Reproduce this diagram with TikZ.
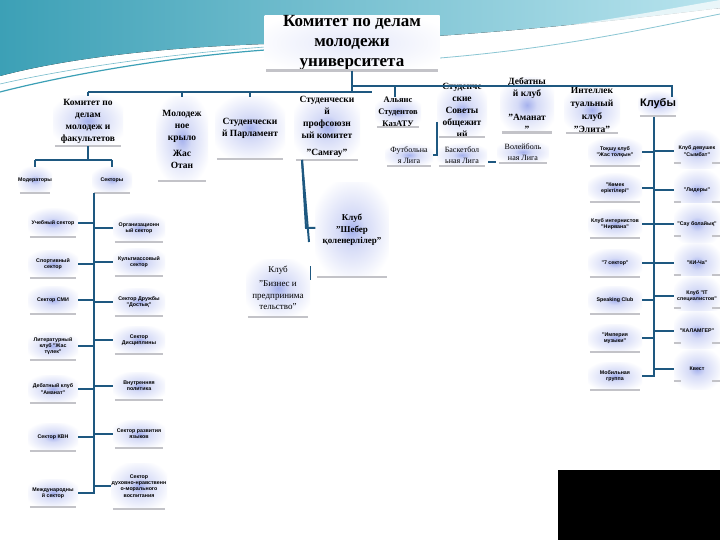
\documentclass[tikz,border=0pt]{standalone}
\usepackage{fontspec}
\setmainfont{Liberation Serif}
\newfontfamily\sansf{Liberation Sans}
\definecolor{linec}{RGB}{30,88,128}
\definecolor{glowc}{RGB}{105,125,225}
\definecolor{tealA}{RGB}{60,160,182}
\definecolor{tealB}{RGB}{185,228,238}
\definecolor{shadc}{RGB}{195,195,200}
\colorlet{glowin}{glowc!60}
\colorlet{glowmid}{glowc!28}
\colorlet{glowlt}{glowc!18}
\colorlet{glowout}{white}
\pgfdeclareradialshading{glowsh}{\pgfpoint{0bp}{0bp}}{color(0bp)=(glowin); color(9bp)=(glowmid); color(29bp)=(glowout); color(50bp)=(glowout)}
\pgfdeclareradialshading{glowsoft}{\pgfpoint{0bp}{0bp}}{color(0bp)=(glowlt); color(30bp)=(glowout); color(50bp)=(glowout)}
\begin{document}
\begin{tikzpicture}[x=1pt,y=-1pt,
  box/.style={shading=glowsh, inner sep=0pt, align=center},
  head/.style={font=\fontsize{9.5}{12}\selectfont\bfseries},
  mid/.style={font=\fontsize{8}{10.5}\selectfont},
  tiny/.style={font=\sansf\fontsize{5.3}{6.2}\selectfont\bfseries},
  conn/.style={draw=linec, line width=2pt},
  shad/.style={draw=shadc, line width=2.2pt}]
\useasboundingbox (0,0) rectangle (720,540);
\fill[white] (0,0) rectangle (720,540);
% background waves
\fill[left color=tealA, right color=tealB] (0,0) -- (720,0) -- (720,8)
  .. controls (560,28) and (420,40) .. (265,44) .. controls (150,48) and (60,60) .. (0,76) -- cycle;
\fill[white, opacity=0.7] (440,40) .. controls (560,30) and (650,12) .. (720,0) -- (720,8)
  .. controls (620,28) and (540,40) .. (440,46) -- cycle;
\draw[tealA, line width=1.2pt] (0,92) .. controls (70,74) and (170,57) .. (265,50);
\draw[tealA!70, line width=0.6pt] (0,84) .. controls (70,68) and (170,54) .. (265,47);
\draw[tealA!60, line width=0.8pt] (440,58) .. controls (560,48) and (650,28) .. (720,14);
% top
\node[box, shading=glowsoft, minimum width=175, minimum height=54,
  font=\fontsize{17}{20}\selectfont\bfseries] (top) at (352,43) {Комитет по делам\\молодежи\\университета};
% level 2
\node[box,head,minimum width=70,minimum height=50] (kom) at (88,121) {Комитет по\\делам\\молодеж и\\факультетов};
\node[box,head,minimum width=52,minimum height=84] (mol) at (182,139) {Молодеж\\ное\\крыло\\[4pt]Жас\\Отан};
\node[box,head,minimum width=70,minimum height=62] (parl) at (250,128) {Студенчески\\й Парламент};
\node[box,head,minimum width=66,minimum height=66] (prof) at (327,127) {Студенчески\\й\\профсоюзн\\ый комитет\\[5pt]"Самғау"};
\node[box,head,minimum width=46,minimum height=30,font=\fontsize{8.5}{12}\selectfont\bfseries] (aly) at (398,112) {Альянс\\Студентов\\КазАТУ};
\node[box,head,minimum width=50,minimum height=52] (sov) at (462,110) {Студенче\\ские\\Советы\\общежит\\ий};
\node[box,head,minimum width=54,minimum height=50] (deb) at (527,105) {Дебатны\\й клуб\\[12pt]"Аманат\\"};
\node[box,head,minimum width=56,minimum height=45,font=\fontsize{9.5}{13}\selectfont\bfseries] (intel) at (592,110) {Интеллек\\туальный\\клуб\\"Элита"};
\node[box,minimum width=40,minimum height=24,font=\sansf\fontsize{11}{13}\selectfont\bfseries] (klub) at (658,104) {Клубы};
% level 3
\node[box,mid,minimum width=48,minimum height=22] (foot) at (409,155) {Футбольна\\я Лига};
\node[box,mid,minimum width=50,minimum height=22] (bask) at (462,155) {Баскетбол\\ьная Лига};
\node[box,mid,minimum width=52,minimum height=22] (voll) at (523,152) {Волейболь\\ная Лига};
\node[box,minimum width=73,minimum height=94,font=\fontsize{9}{11.5}\selectfont\bfseries] (shb) at (352,230) {Клуб\\"Шебер\\қоленерлілер"};
\node[box,minimum width=64,minimum height=57,font=\fontsize{9}{11.5}\selectfont] (biz) at (278,288) {Клуб\\[3pt]"Бизнес и\\предпринима\\тельство"};
% left subtree
\node[box,tiny,minimum width=34,minimum height=26] (mod) at (35,180) {Модераторы};
\node[box,tiny,minimum width=40,minimum height=26] (sek) at (112,180) {Секторы};
\node[box,tiny,minimum width=50,minimum height=28] (L1) at (53,223) {Учебный сектор};
\node[box,tiny,minimum width=50,minimum height=28] (L2) at (53,264) {Спортивный\\сектор};
\node[box,tiny,minimum width=50,minimum height=28] (L3) at (53,300) {Сектор СМИ};
\node[box,tiny,minimum width=50,minimum height=28] (L4) at (53,346) {Литературный\\клуб "Жас\\түлек"};
\node[box,tiny,minimum width=50,minimum height=28] (L5) at (53,389) {Дебатный клуб\\"Аманат"};
\node[box,tiny,minimum width=50,minimum height=28] (L6) at (53,437) {Сектор КВН};
\node[box,tiny,minimum width=50,minimum height=28] (L7) at (53,493) {Международны\\й сектор};
\node[box,tiny,minimum width=52,minimum height=28] (R1) at (139,228) {Организационн\\ый сектор};
\node[box,tiny,minimum width=52,minimum height=28] (R2) at (139,262) {Культмассовый\\сектор};
\node[box,tiny,minimum width=52,minimum height=28] (R3) at (139,302) {Сектор Дружбы\\"Достық"};
\node[box,tiny,minimum width=52,minimum height=28] (R4) at (139,340) {Сектор\\Дисциплины};
\node[box,tiny,minimum width=52,minimum height=28] (R5) at (139,386) {Внутренняя\\политика};
\node[box,tiny,minimum width=52,minimum height=28] (R6) at (139,434) {Сектор развития\\языков};
\node[box,tiny,minimum width=56,minimum height=46] (R7) at (139,486) {Сектор\\духовно-нравственн\\о-морального\\воспитания};
% clubs subtree
\node[box,tiny,minimum width=54,minimum height=28] (C1) at (615,152) {Тоқшу клуб\\"Жас толқын"};
\node[box,tiny,minimum width=54,minimum height=28] (C2) at (615,188) {"Көмек\\еріктілері"};
\node[box,tiny,minimum width=54,minimum height=28] (C3) at (615,224) {Клуб интернистов\\"Нирвана"};
\node[box,tiny,minimum width=54,minimum height=28] (C4) at (615,263) {"7 сектор"};
\node[box,tiny,minimum width=54,minimum height=28] (C5) at (615,300) {Speaking Club};
\node[box,tiny,minimum width=54,minimum height=28] (C6) at (615,338) {"Империя\\музыки"};
\node[box,tiny,minimum width=54,minimum height=28] (C7) at (615,376) {Мобильная\\группа};
\node[box,tiny,minimum width=46,minimum height=40] (D1) at (697,151) {Клуб девушек\\"Сымбат"};
\node[box,tiny,minimum width=46,minimum height=40] (D2) at (697,190) {"Лидеры"};
\node[box,tiny,minimum width=46,minimum height=40] (D3) at (697,224) {"Сау болайық"};
\node[box,tiny,minimum width=46,minimum height=40] (D4) at (697,263) {"КИ-Ча"};
\node[box,tiny,minimum width=46,minimum height=40] (D5) at (697,296) {Клуб "IT\\специалистов"};
\node[box,tiny,minimum width=46,minimum height=40] (D6) at (697,331) {"КАЛАМГЕР"};
\node[box,tiny,minimum width=46,minimum height=40] (D7) at (697,369) {Квест};
% grey base lines
\foreach \n in {top,kom,mol,parl,prof,aly,sov,deb,intel,klub,foot,bask,voll,shb,biz,mod,sek,
  L1,L2,L3,L4,L5,L6,L7,R1,R2,R3,R4,R5,R6,R7,C1,C2,C3,C4,C5,C6,C7}
  \draw[shad] ([xshift=2pt]\n.south west) -- ([xshift=-2pt]\n.south east);
\foreach \n in {D1,D2,D3,D4,D5,D6,D7} {
  \draw[shad] ([yshift=8pt]\n.south west) -- ++(7,0);
  \draw[shad] ([yshift=8pt]\n.south east) -- ++(-8,0);
}
% main connectors
\coordinate (hl) at (88,92);
\coordinate (hr) at (672,86);
\draw[conn] (top.south) -- (top.south |- 0,92);
\draw[conn] (hl) -- (372,92);
\draw[conn] (top.south |- 0,86) -- (hr) -- (672,97);
\draw[conn] (hl) -- (kom.north);
\draw[conn] (mol.north |- hl) -- (mol.north);
\draw[conn] (parl.north |- hl) -- (parl.north);
\draw[conn] (395,86) -- (395,97);
% sovety sub
\coordinate (s1) at (437,122);
\draw[conn] (s1) -- (437,155) -- (foot.east);
\draw[conn] (488,162) -- (496,162);
% profkom sub
\coordinate (p1) at (302,160);
\draw[conn] (p1) -- (306,228) -- (shb.west |- 0,228);
\draw[conn] (p1) -- (309,242);
\draw[conn, line width=1pt] (310,266) -- (310,280);
% left subtree
\draw[conn] (kom.south) -- (88,160);
\draw[conn] (mod.north |- 0,160) -- (sek.north |- 0,160);
\draw[conn] (mod.north |- 0,160) -- (mod.north);
\draw[conn] (sek.north |- 0,160) -- (sek.north);
\coordinate (lt) at (94,193);
\coordinate (lb) at (94,494);
\draw[conn] (lt) -- (lb);
\foreach \n in {L1,L2,L3,L4,L5,L6,L7} \draw[conn] (\n.east) -- (\n.east -| lt);
\foreach \n in {R1,R2,R3,R4,R5,R6,R7} \draw[conn] (\n.west -| lt) -- (\n.west);
% clubs subtree
\coordinate (ct) at (654,117);
\coordinate (cb) at (654,377);
\draw[conn] (ct) -- (cb);
\foreach \n in {C1,C2,C3,C4,C5,C6,C7} \draw[conn] (\n.east) -- (\n.east -| ct);
\foreach \n in {D1,D2,D3,D4,D5,D6,D7} \draw[conn] (\n.west -| ct) -- (\n.west);
% black block
\fill[black] (558,470) rectangle (720,540);
\end{tikzpicture}
\end{document}
